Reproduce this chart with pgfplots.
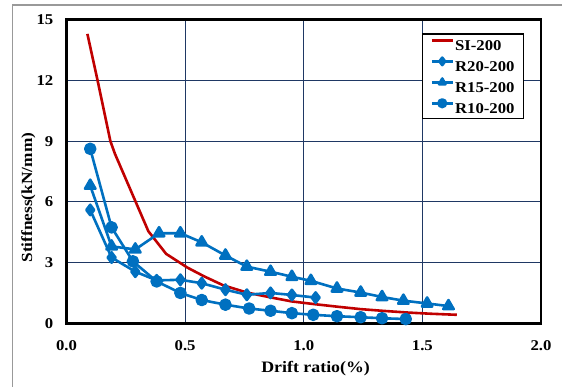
\documentclass[border=0pt]{standalone}
\usepackage{fontspec}
\setmainfont{Liberation Serif}[FakeStretch=1.12]
\usepackage{pgfplots}
\pgfplotsset{compat=1.18}
\definecolor{myblue}{HTML}{0070C0}
\definecolor{myred}{HTML}{C00000}
\definecolor{gridc}{HTML}{1F3864}

\pgfplotstableread{
x y
0.088 14.3
0.131 12.0
0.185 9.0
0.204 8.38
0.345 4.55
0.42 3.43
0.51 2.75
0.58 2.32
0.66 1.88
0.76 1.52
0.86 1.28
0.95 1.08
1.05 0.94
1.15 0.81
1.24 0.70
1.34 0.61
1.44 0.53
1.54 0.47
1.645 0.42
}\SIdata

\pgfplotstableread{
x y
0.10 5.60
0.19 3.25
0.29 2.55
0.38 2.12
0.48 2.15
0.57 1.98
0.67 1.66
0.76 1.41
0.86 1.50
0.95 1.40
1.05 1.27
}\Rtwenty

\pgfplotstableread{
x y
0.10 6.80
0.19 3.80
0.29 3.65
0.39 4.45
0.48 4.45
0.57 4.00
0.67 3.35
0.76 2.80
0.86 2.55
0.95 2.30
1.03 2.10
1.14 1.72
1.24 1.52
1.33 1.30
1.42 1.12
1.52 0.98
1.61 0.85
}\Rfifteen

\pgfplotstableread{
x y
0.10 8.62
0.19 4.74
0.28 3.06
0.38 2.07
0.48 1.50
0.57 1.15
0.67 0.92
0.77 0.73
0.86 0.62
0.95 0.50
1.04 0.42
1.14 0.35
1.24 0.30
1.33 0.25
1.43 0.21
}\Rten

\begin{document}
\begin{tikzpicture}
\begin{axis}[name=ax, scale only axis, width=474.5bp, height=303.6bp,
  xmin=0, xmax=2, ymin=0, ymax=15,
  xtick={0,0.5,1,1.5,2}, ytick={0,3,6,9,12,15},
  grid=major, major grid style={gridc, line width=1.2bp},
  axis line style={black, line width=2.6bp},
  major tick length=0pt,
  tick label style={font=\fontsize{15}{18}\selectfont\bfseries, inner sep=0pt},
  xticklabel={\textbf{\pgfmathprintnumber[fixed, fixed zerofill, precision=1, assume math mode=true]{\tick}}},
  yticklabel={\textbf{\pgfmathprintnumber[assume math mode=true]{\tick}}},
  yticklabel shift=13bp,
  xticklabel shift=16.7bp,
  xlabel={Drift ratio(\%)},
  ylabel={Stiffness(kN/mm)},
  xlabel style={font=\fontsize{16}{19}\selectfont\bfseries, at={(axis description cs:0.525,0)}, anchor=center, yshift=-45bp},
  ylabel style={font=\fontsize{15.5}{18}\selectfont\bfseries, at={(axis description cs:-0.0805,0.414)}, anchor=center, rotate=0},
  legend style={at={(0.7486,0.955)}, anchor=north west, draw=black, line width=1.5bp,
    inner xsep=8bp, inner ysep=5bp, row sep=6.8bp,
    font=\fontsize{15}{18}\selectfont\bfseries,
    nodes={inner xsep=1bp, inner ysep=0pt, text height=10.7bp, text depth=0pt, anchor=west}},
  legend cell align=left,
  legend image code/.code={\draw[mark repeat=2, mark phase=2, #1, mark size=3.8bp] plot coordinates {(0bp,5bp) (10.5bp,5bp) (21bp,5bp)};},
  every axis plot/.append style={line width=2.6bp, line join=round},
]
\addplot[myred, no markers] table {\SIdata};
\addlegendentry{SI-200}
\addplot[myblue, mark=diamond*, mark size=5.2bp, mark options={solid}] table {\Rtwenty};
\addlegendentry{R20-200}
\addplot[myblue, mark=triangle*, mark size=6bp, mark options={solid}] table {\Rfifteen};
\addlegendentry{R15-200}
\addplot[myblue, mark=*, mark size=5bp, mark options={solid}] table {\Rten};
\addlegendentry{R10-200}
\end{axis}
\draw[black!40, line width=1.4bp] ([shift={(-54.2bp,-80bp)}]ax.south west) -- ([shift={(-54.2bp,14.7bp)}]ax.north west) -- ([shift={(40bp,14.7bp)}]ax.north east);
\pgfresetboundingbox
\path[use as bounding box] ([shift={(-66.5bp,-63.7bp)}]ax.south west) rectangle ([shift={(21bp,19.7bp)}]ax.north east);
\end{tikzpicture}
\end{document}
